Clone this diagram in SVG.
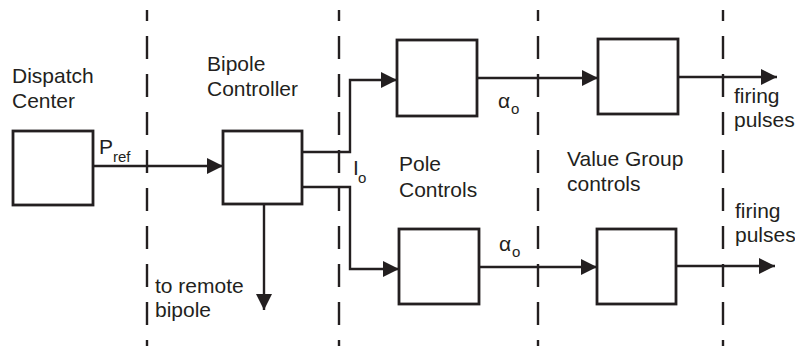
<svg xmlns="http://www.w3.org/2000/svg" width="795" height="346" viewBox="0 0 795 346">
<style>
  .box{fill:#fff;stroke:#231f20;stroke-width:2.8}
  .wire{fill:none;stroke:#231f20;stroke-width:2.4}
  .dash{fill:none;stroke:#231f20;stroke-width:2.4;stroke-dasharray:23 15;stroke-dashoffset:12}
  text{font-family:"Liberation Sans",Arial,Helvetica,sans-serif;font-size:21px;fill:#231f20}
  .sub{font-size:15px}
  .mid{font-size:21px}
</style>
<defs>
  <marker id="ah" markerUnits="userSpaceOnUse" markerWidth="18" markerHeight="18" refX="16" refY="8" orient="auto">
    <path d="M0,0 L16,8 L0,16 z" fill="#231f20"/>
  </marker>
</defs>
<rect width="795" height="346" fill="#fff"/>
<g id="dividers">
  <line class="dash" x1="147" y1="10" x2="147" y2="346"/>
  <line class="dash" x1="339" y1="10" x2="339" y2="346"/>
  <line class="dash" x1="538" y1="10" x2="538" y2="346"/>
  <line class="dash" x1="723" y1="10" x2="723" y2="346"/>
</g>
<g id="connectors">
  <path class="wire" d="M93,166 H223" marker-end="url(#ah)"/>
  <path class="wire" d="M302,152 H350 V80 H397" marker-end="url(#ah)"/>
  <path class="wire" d="M302,187 H350 V269 H399" marker-end="url(#ah)"/>
  <path class="wire" d="M264,204 V310" marker-end="url(#ah)"/>
  <path class="wire" d="M477,78 H598" marker-end="url(#ah)"/>
  <path class="wire" d="M678,77 H777" marker-end="url(#ah)"/>
  <path class="wire" d="M479,267 H597" marker-end="url(#ah)"/>
  <path class="wire" d="M676,266 H775" marker-end="url(#ah)"/>
</g>
<g id="dispatch-center">
  <rect class="box" x="13" y="131" width="80" height="74"/>
  <text x="12" y="83">Dispatch</text>
  <text x="12" y="108">Center</text>
</g>
<g id="bipole-controller">
  <rect class="box" x="223" y="131" width="79" height="73"/>
  <text x="207" y="71">Bipole</text>
  <text x="207" y="96">Controller</text>
</g>
<g id="pole-upper">
  <rect class="box" x="397" y="40" width="80" height="76"/>
</g>
<g id="pole-lower">
  <rect class="box" x="399" y="229" width="80" height="75"/>
</g>
<g id="valve-upper">
  <rect class="box" x="598" y="39" width="80" height="75"/>
</g>
<g id="valve-lower">
  <rect class="box" x="597" y="229" width="79" height="75"/>
</g>
<g id="labels">
  <text x="99" y="154">P</text><text class="sub" x="113" y="162">ref</text>
  <text class="mid" x="353" y="175">I</text><text class="sub" x="358" y="183">o</text>
  <text x="155" y="293">to remote</text>
  <text x="155" y="317">bipole</text>
  <text x="399" y="171">Pole</text>
  <text x="399" y="197">Controls</text>
  <text x="567" y="166">Value Group</text>
  <text x="567" y="191">controls</text>
  <text class="mid" x="498" y="108">α</text><text class="sub" x="511" y="114">o</text>
  <text class="mid" x="499" y="251">α</text><text class="sub" x="512" y="257">o</text>
  <text x="734" y="103">firing</text>
  <text x="734" y="127">pulses</text>
  <text x="735" y="218">firing</text>
  <text x="735" y="242">pulses</text>
</g>
</svg>
